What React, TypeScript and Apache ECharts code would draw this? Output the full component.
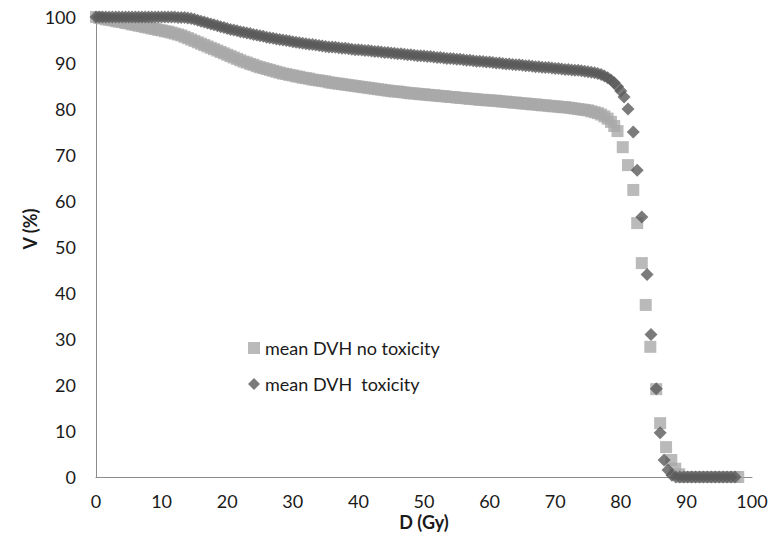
import React, { useEffect, useRef } from "react";
import * as echarts from "echarts";

// Dose grid (Gy) for the smooth part of both curves
const doseGrid = [
  0, 0.5, 1, 1.5, 2, 2.5, 3, 3.5, 4, 4.5, 5, 5.5, 6, 6.5, 7, 7.5, 8, 8.5, 9, 9.5,
  10, 10.5, 11, 11.5, 12, 12.5, 13, 13.5, 14, 14.5, 15, 15.5, 16, 16.5, 17, 17.5, 18, 18.5, 19, 19.5,
  20, 20.5, 21, 21.5, 22, 22.5, 23, 23.5, 24, 24.5, 25, 25.5, 26, 26.5, 27, 27.5, 28, 28.5, 29, 29.5,
  30, 30.5, 31, 31.5, 32, 32.5, 33, 33.5, 34, 34.5, 35, 35.5, 36, 36.5, 37, 37.5, 38, 38.5, 39, 39.5,
  40, 40.5, 41, 41.5, 42, 42.5, 43, 43.5, 44, 44.5, 45, 45.5, 46, 46.5, 47, 47.5, 48, 48.5, 49, 49.5,
  50, 50.5, 51, 51.5, 52, 52.5, 53, 53.5, 54, 54.5, 55, 55.5, 56, 56.5, 57, 57.5, 58, 58.5, 59, 59.5,
  60, 60.5, 61, 61.5, 62, 62.5, 63, 63.5, 64, 64.5, 65, 65.5, 66, 66.5, 67, 67.5, 68, 68.5, 69, 69.5,
  70, 70.5, 71, 71.5, 72, 72.5, 73, 73.5, 74, 74.5, 75, 75.5, 76, 76.5, 77, 77.5, 78, 78.5, 79, 79.5,
];

// mean DVH no toxicity (V %), on doseGrid
const noToxVol = [
  100, 99.8, 99.7, 99.5, 99.4, 99.3, 99.1, 99.0, 98.9, 98.7, 98.6, 98.4, 98.3, 98.1, 98.0, 97.8, 97.7, 97.5, 97.4, 97.2,
  97.1, 96.9, 96.8, 96.6, 96.4, 96.2, 96.0, 95.7, 95.4, 95.1, 94.8, 94.5, 94.2, 93.9, 93.6, 93.3, 93.0, 92.7, 92.4, 92.1,
  91.8, 91.5, 91.2, 90.9, 90.6, 90.3, 90.1, 89.8, 89.6, 89.3, 89.1, 88.9, 88.7, 88.5, 88.3, 88.1, 87.9, 87.7, 87.6, 87.4,
  87.3, 87.1, 87.0, 86.8, 86.7, 86.6, 86.4, 86.3, 86.2, 86.1, 86.0, 85.8, 85.7, 85.6, 85.5, 85.4, 85.3, 85.2, 85.1, 85.0,
  84.9, 84.8, 84.7, 84.6, 84.5, 84.4, 84.3, 84.2, 84.1, 84.0, 83.9, 83.8, 83.8, 83.7, 83.6, 83.5, 83.4, 83.4, 83.3, 83.2,
  83.2, 83.1, 83.0, 83.0, 82.9, 82.8, 82.8, 82.7, 82.6, 82.6, 82.5, 82.4, 82.4, 82.3, 82.2, 82.2, 82.1, 82.0, 82.0, 81.9,
  81.9, 81.8, 81.8, 81.7, 81.6, 81.6, 81.5, 81.4, 81.4, 81.3, 81.2, 81.2, 81.1, 81.0, 81.0, 80.9, 80.8, 80.8, 80.7, 80.6,
  80.6, 80.5, 80.4, 80.4, 80.3, 80.2, 80.1, 80.0, 79.9, 79.8, 79.7, 79.5, 79.3, 79.1, 78.8, 78.4, 77.9, 77.2, 76.3, 75.2,
];

// mean DVH toxicity (V %), on doseGrid
const toxVol = [
  100, 100, 100, 100, 100, 100, 100, 100, 100, 100, 100, 100, 100, 100, 100, 100, 100, 100, 100, 100,
  100, 100, 100, 100, 100, 99.9, 99.9, 99.9, 99.8, 99.7, 99.5, 99.3, 99.1, 98.9, 98.7, 98.5, 98.3, 98.1, 97.9, 97.7,
  97.5, 97.3, 97.2, 97.0, 96.8, 96.7, 96.5, 96.4, 96.2, 96.1, 95.9, 95.8, 95.6, 95.5, 95.4, 95.2, 95.1, 95.0, 94.9, 94.8,
  94.6, 94.5, 94.4, 94.3, 94.2, 94.1, 94.0, 93.9, 93.8, 93.7, 93.6, 93.5, 93.5, 93.4, 93.3, 93.2, 93.2, 93.1, 93.0, 92.9,
  92.9, 92.8, 92.7, 92.7, 92.6, 92.5, 92.5, 92.4, 92.3, 92.3, 92.2, 92.1, 92.0, 92.0, 91.9, 91.8, 91.8, 91.7, 91.6, 91.6,
  91.5, 91.4, 91.4, 91.3, 91.2, 91.2, 91.1, 91.0, 91.0, 90.9, 90.8, 90.8, 90.7, 90.6, 90.6, 90.5, 90.4, 90.4, 90.3, 90.2,
  90.2, 90.1, 90.0, 90.0, 89.9, 89.8, 89.8, 89.7, 89.6, 89.6, 89.5, 89.4, 89.4, 89.3, 89.2, 89.2, 89.1, 89.0, 89.0, 88.9,
  88.8, 88.8, 88.7, 88.6, 88.6, 88.5, 88.4, 88.4, 88.3, 88.2, 88.1, 88.0, 87.9, 87.7, 87.5, 87.2, 86.8, 86.3, 85.7, 84.9,
];

// steep fall-off and tail points
const noToxTailDose = [80.3, 81.1, 81.9, 82.5, 83.2, 83.8, 84.5, 85.4, 86.0, 86.9, 87.7, 88.3, 88.9,
  89.5, 90.1, 90.7, 91.3, 91.9, 92.5, 93.1, 93.7, 94.3, 94.9, 95.5, 96.1, 96.7, 97.3, 97.9];
const noToxTailVol = [71.7, 67.8, 62.4, 55.2, 46.5, 37.4, 28.3, 19.1, 11.7, 6.5, 3.7, 1.8, 0.6,
  0, 0, 0, 0, 0, 0, 0, 0, 0, 0, 0, 0, 0, 0, 0];

const toxTailDose = [80.0, 80.5, 81.1, 81.9, 82.5, 83.2, 84.0, 84.6, 85.4, 86.0, 86.6, 87.2, 87.8,
  88.4, 89.0, 89.6, 90.2, 90.8, 91.4, 92.0, 92.6, 93.2, 93.8, 94.4, 95.0, 95.6, 96.2, 96.8, 97.4];
const toxTailVol = [83.9, 82.6, 80.0, 75.0, 66.7, 56.5, 44.0, 31.0, 19.2, 9.6, 3.7, 1.5, 0.4,
  0, 0, 0, 0, 0, 0, 0, 0, 0, 0, 0, 0, 0, 0, 0, 0];

const xTicks = [0, 10, 20, 30, 40, 50, 60, 70, 80, 90, 100];
const seriesNames = ["mean DVH no toxicity", "mean DVH  toxicity"];

const FONT = "Lato";

export default function App() {
  const ref = useRef<HTMLDivElement>(null);
  useEffect(() => {
    if (!ref.current) return;
    const chart = echarts.init(ref.current, null, { renderer: "svg" });
    const noTox = doseGrid.map((d, i) => [d, noToxVol[i]]).concat(noToxTailDose.map((d, i) => [d, noToxTailVol[i]]));
    const tox = doseGrid.map((d, i) => [d, toxVol[i]]).concat(toxTailDose.map((d, i) => [d, toxTailVol[i]]));
    chart.setOption({
      animation: false,
      backgroundColor: "#ffffff",
      textStyle: { fontFamily: FONT },
      grid: { left: 96, top: 17, width: 656, height: 460, containLabel: false },
      legend: {
        orient: "vertical",
        left: 243,
        top: 334,
        itemWidth: 12,
        itemHeight: 12,
        itemGap: 18,
        padding: 5,
        textStyle: { fontFamily: FONT, fontSize: 18, color: "#1a1a1a", lineHeight: 18 },
        data: [
          { name: seriesNames[0], icon: "rect" },
          { name: seriesNames[1], icon: "diamond" },
        ],
      },
      xAxis: {
        type: "value",
        min: 0,
        max: 100,
        interval: 10,
        splitLine: { show: false },
        axisTick: { show: false },
        axisLine: { show: true, onZero: false, lineStyle: { color: "#8c8c8c", width: 1 } },
        axisLabel: {
          margin: 15,
          fontFamily: FONT,
          fontSize: 18,
          color: "#1a1a1a",
          formatter: (v: number) => (xTicks.includes(v) ? String(v) : ""),
        },
      },
      yAxis: {
        type: "value",
        min: 0,
        max: 100,
        interval: 10,
        splitLine: { show: false },
        axisTick: { show: false },
        axisLine: { show: true, onZero: false, lineStyle: { color: "#8c8c8c", width: 1 } },
        axisLabel: { margin: 20, fontFamily: FONT, fontSize: 18, color: "#1a1a1a" },
      },
      graphic: [
        {
          type: "text",
          x: 30,
          y: 229,
          rotation: Math.PI / 2,
          style: {
            text: "V (%)",
            fontFamily: FONT,
            fontSize: 18,
            fontWeight: "bold",
            fill: "#1a1a1a",
            align: "center",
            verticalAlign: "middle",
          },
        },
        {
          type: "text",
          x: 424,
          y: 522,
          style: {
            text: "D (Gy)",
            fontFamily: FONT,
            fontSize: 18,
            fontWeight: "bold",
            fill: "#1a1a1a",
            align: "center",
            verticalAlign: "middle",
          },
        },
      ],
      series: [
        {
          name: seriesNames[0],
          type: "scatter",
          symbol: "rect",
          symbolSize: 12,
          clip: false,
          itemStyle: { color: "#a9a9a9" },
          data: noTox,
          z: 2,
        },
        {
          name: seriesNames[1],
          type: "scatter",
          symbol: "diamond",
          symbolSize: 13,
          clip: false,
          itemStyle: { color: "#5a5a5a" },
          data: tox,
          z: 3,
        },
      ],
    });
    return () => chart.dispose();
  }, []);
  return (
    <div
      ref={ref}
      style={{ position: "absolute", left: 0, top: 0, width: 771, height: 545 }}
    />
  );
}
